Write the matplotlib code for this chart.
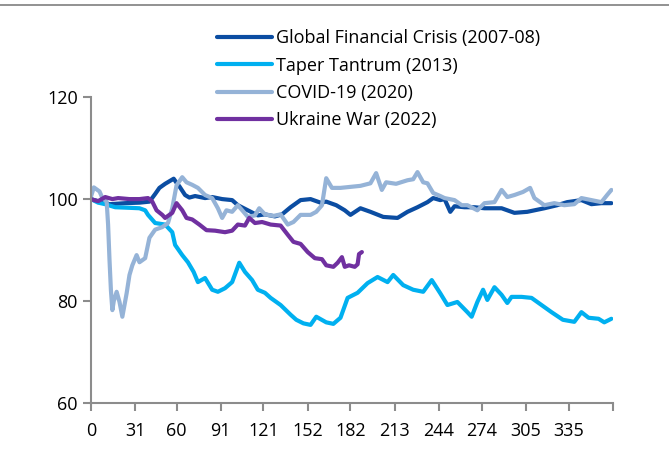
import matplotlib
matplotlib.use("Agg")
import matplotlib.pyplot as plt
from matplotlib.lines import Line2D

plt.rcParams['font.family'] = ['Open Sans', 'DejaVu Sans']

# day index -> indexed level (start = 100)
gfc_days = [0, 6, 13, 24, 34, 41, 45, 48, 52, 55, 58, 60, 62, 66, 69, 73, 80, 85, 92, 99,
            103, 110, 117, 122, 129, 134, 140, 147, 154, 161, 165, 172, 178, 182, 189, 196,
            205, 215, 222, 229, 236, 240, 245, 248, 252, 255, 262, 269, 276, 288, 297, 306,
            318, 327, 334, 344, 351, 358, 365]
gfc_vals = [100, 99.5, 99.0, 99.2, 99.3, 99.5, 101.0, 102.2, 103.0, 103.5, 104.0, 103.2,
            102.5, 100.8, 100.3, 100.6, 100.2, 100.4, 100.0, 99.8, 98.8, 97.8, 96.8, 97.0,
            96.6, 97.0, 98.4, 99.8, 100.0, 99.3, 99.5, 98.8, 97.8, 96.9, 98.2, 97.5, 96.5,
            96.3, 97.5, 98.4, 99.4, 100.2, 99.8, 100.0, 97.5, 98.6, 98.4, 98.4, 98.2, 98.2,
            97.3, 97.5, 98.2, 98.8, 99.4, 99.8, 99.0, 99.2, 99.2]

taper_days = [0, 5, 10, 17, 26, 34, 38, 40, 45, 52, 57, 59, 64, 68, 72, 75, 80, 85, 89, 94,
              99, 104, 108, 113, 117, 122, 126, 133, 140, 144, 149, 154, 158, 165, 170, 175,
              180, 187, 194, 201, 208, 212, 219, 226, 233, 239, 245, 250, 257, 264, 267, 271,
              275, 278, 283, 288, 292, 295, 302, 309, 316, 323, 331, 339, 344, 349, 356, 360,
              365]
taper_vals = [100, 99.3, 99.0, 98.4, 98.3, 98.2, 97.8, 96.9, 95.3, 95.0, 93.5, 91.0, 89.0,
              87.6, 85.7, 83.7, 84.5, 82.2, 81.8, 82.5, 83.7, 87.5, 85.7, 84.1, 82.2, 81.6,
              80.6, 79.2, 77.3, 76.3, 75.6, 75.3, 76.9, 75.8, 75.5, 76.7, 80.6, 81.6, 83.5,
              84.7, 83.7, 85.1, 83.1, 82.2, 81.8, 84.1, 81.5, 79.2, 79.8, 77.8, 76.9, 79.8,
              82.2, 80.2, 82.7, 81.2, 79.6, 80.8, 80.8, 80.6, 79.2, 77.8, 76.3, 75.9, 77.8,
              76.7, 76.5, 75.8, 76.5]

covid_days = [0, 2, 6, 8, 11, 12, 13, 14, 15, 16, 18, 20, 22, 25, 27, 29, 32, 34, 38, 41,
              45, 50, 54, 57, 60, 64, 67, 71, 75, 80, 85, 89, 92, 95, 99, 103, 107, 110, 115,
              118, 122, 124, 128, 133, 138, 142, 147, 154, 158, 162, 165, 169, 175, 182, 189,
              196, 200, 204, 207, 214, 222, 226, 229, 233, 236, 240, 245, 248, 255, 260, 264,
              271, 276, 283, 288, 292, 297, 303, 308, 311, 318, 325, 332, 339, 344, 351, 358,
              362, 365]
covid_vals = [100.5, 102.3, 101.5, 100.2, 99.5, 95.0, 88.0, 82.0, 78.2, 80.0, 81.8, 79.8,
              76.9, 81.5, 85.1, 87.0, 89.0, 87.6, 88.4, 92.4, 94.0, 94.5, 95.3, 98.2, 102.7,
              104.3, 103.3, 102.8, 102.2, 100.8, 100.2, 98.2, 96.3, 97.8, 97.5, 98.8, 97.5,
              96.5, 96.8, 98.2, 97.0, 96.9, 96.7, 97.0, 95.0, 95.5, 96.9, 96.9, 97.5, 98.8,
              104.1, 102.2, 102.2, 102.4, 102.6, 103.1, 105.1, 101.8, 103.3, 103.0, 103.7,
              103.9, 105.3, 103.3, 103.1, 101.2, 100.6, 100.2, 99.8, 98.8, 98.8, 97.8, 99.2,
              99.4, 101.8, 100.4, 100.8, 101.4, 102.2, 100.2, 98.8, 99.2, 98.8, 99.0, 100.2,
              99.8, 99.4, 100.8, 101.8]

ukraine_days = [0, 2, 5, 10, 15, 19, 27, 34, 40, 43, 46, 50, 52, 57, 60, 64, 67, 71, 76, 81,
                87, 94, 99, 103, 108, 111, 115, 120, 126, 133, 138, 142, 147, 152, 157, 162,
                165, 170, 173, 176, 178, 181, 185, 187, 188, 190]
ukraine_vals = [100, 99.8, 99.6, 100.4, 100.0, 100.2, 100.0, 100.0, 100.2, 99.5, 97.8, 96.9,
                96.3, 97.3, 99.2, 97.8, 96.3, 96.0, 95.0, 93.9, 93.8, 93.5, 93.8, 95.0, 94.8,
                96.3, 95.3, 95.5, 95.0, 94.8, 93.0, 91.6, 91.2, 89.6, 88.4, 88.2, 87.0, 86.7,
                87.5, 88.6, 86.7, 87.0, 86.7, 87.2, 89.2, 89.6]

x_ticks = [0, 31, 60, 91, 121, 152, 182, 213, 244, 274, 305, 335, 366]
x_labels = ['0', '31', '60', '91', '121', '152', '182', '213', '244', '274', '305', '335', '']

fig = plt.figure(figsize=(6.69, 4.63), dpi=100)
ax = fig.add_axes([0.136, 0.13, 0.780, 0.66])

lw = 3.0
ax.plot(gfc_days, gfc_vals, color='#0B4DA2', lw=lw, label='Global Financial Crisis (2007-08)',
        solid_capstyle='round')
ax.plot(taper_days, taper_vals, color='#00B0F0', lw=lw, label='Taper Tantrum (2013)',
        solid_capstyle='round')
ax.plot(covid_days, covid_vals, color='#95B3D7', lw=lw, label='COVID-19 (2020)',
        solid_capstyle='round')
ax.plot(ukraine_days, ukraine_vals, color='#7030A0', lw=lw, label='Ukraine War (2022)',
        solid_capstyle='round')

ax.set_xlim(0, 366)
ax.set_ylim(60, 120)
ax.set_yticks([60, 80, 100, 120])
ax.set_xticks(x_ticks)
ax.set_xticklabels(x_labels)

for s in ['top', 'right']:
    ax.spines[s].set_visible(False)
for s in ['left', 'bottom']:
    ax.spines[s].set_color('#8C8C8C')
    ax.spines[s].set_linewidth(1.5)
ax.tick_params(axis='both', colors='#8C8C8C', width=1.5, length=6, labelsize=13,
               labelcolor='black')
ax.tick_params(axis='x', pad=8)

fig.legend(loc='upper left', bbox_to_anchor=(0.325, 0.937), frameon=False, fontsize=13,
           handlelength=3.0, handletextpad=0.25, labelspacing=0.52, borderpad=0,
           borderaxespad=0)

# rule under the clipped heading
fig.add_artist(Line2D([0, 1], [0.989, 0.989], color='#7F7F7F', lw=1.2,
                      transform=fig.transFigure))

fig.savefig('out.png', dpi=100)
